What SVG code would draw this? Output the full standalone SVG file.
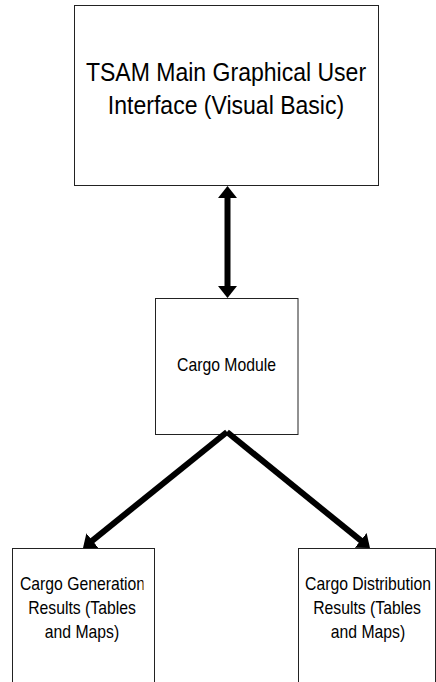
<svg xmlns="http://www.w3.org/2000/svg" width="436" height="682" viewBox="0 0 436 682">
<style>
.box{fill:#fff;stroke:#222;stroke-width:1}
.t{font-family:"Liberation Sans",Arial,sans-serif;fill:#000;text-anchor:middle}
.big{font-size:24px}
.sm{font-size:17.5px}
.con{fill:none;stroke:#000;stroke-width:6}
</style>
<defs>
<marker id="ah" viewBox="0 0 12 19" refX="2" refY="9.5" markerWidth="12" markerHeight="19" markerUnits="userSpaceOnUse" orient="auto-start-reverse">
<path d="M0,0 L12,9.5 L0,19 z" fill="#000"/>
</marker>
<clipPath id="clipL"><rect x="12" y="548" width="131.5" height="134"/></clipPath>
</defs>
<rect width="436" height="682" fill="#fff"/>
<g id="gui">
<rect class="box" x="74.5" y="5.5" width="304" height="180"/>
<text class="t big" transform="translate(226,80.5) scale(0.96,1.04)">TSAM Main Graphical User</text>
<text class="t big" transform="translate(226,113.5) scale(0.96,1.04)">Interface (Visual Basic)</text>
</g>
<g id="cargo-module">
<rect class="box" x="155.5" y="298.5" width="142.5" height="136"/>
<text class="t sm" transform="translate(226.5,371) scale(0.9,1)">Cargo Module</text>
</g>
<g id="cargo-generation">
<rect class="box" x="12.5" y="548.5" width="142" height="140"/>
<g clip-path="url(#clipL)">
<text class="t sm" transform="translate(82.5,590) scale(0.9,1)">Cargo Generation</text>
</g>
<text class="t sm" transform="translate(82,614) scale(0.9,1)">Results (Tables</text>
<text class="t sm" transform="translate(82,638) scale(0.9,1)">and Maps)</text>
</g>
<g id="cargo-distribution">
<rect class="box" x="298.5" y="548.5" width="137" height="140"/>
<text class="t sm" transform="translate(368,590) scale(0.9,1)">Cargo Distribution</text>
<text class="t sm" transform="translate(367,614) scale(0.9,1)">Results (Tables</text>
<text class="t sm" transform="translate(368,638) scale(0.9,1)">and Maps)</text>
</g>
<g id="connectors">
<path class="con" d="M227.5,196 L227.5,288" marker-start="url(#ah)" marker-end="url(#ah)"/>
<path class="con" d="M227,432 L90.8,541.8" marker-end="url(#ah)"/>
<path class="con" d="M227,432 L362.2,541.7" marker-end="url(#ah)"/>
</g>
</svg>
